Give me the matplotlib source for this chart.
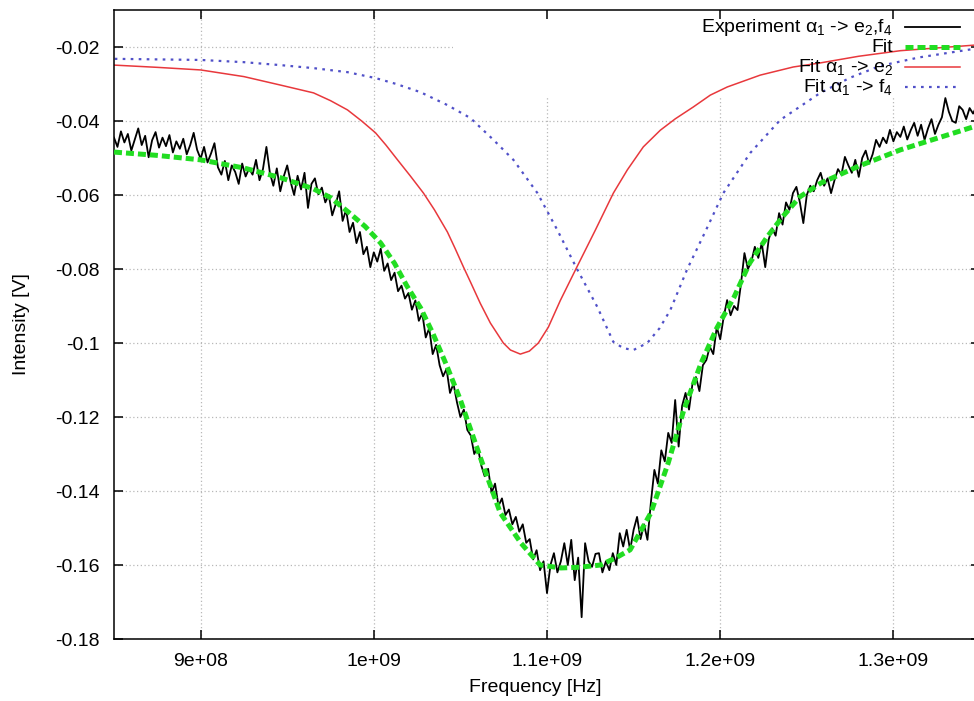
import numpy as np
import matplotlib
matplotlib.use("Agg")
import matplotlib.pyplot as plt
from matplotlib.patches import Rectangle

plt.rcParams['font.family'] = ['Liberation Sans', 'DejaVu Sans']
plt.rcParams['mathtext.fontset'] = 'custom'
plt.rcParams['mathtext.rm'] = 'Liberation Sans'
plt.rcParams['mathtext.it'] = 'Liberation Sans:italic'

# measured sweep (V), evenly sampled from 850 MHz to 1348 MHz, 2 MHz steps
exp_v = [
    -0.0445, -0.0470, -0.0428, -0.0458, -0.0435, -0.0480, -0.0450, -0.0420, -0.0465, -0.0440,
    -0.0498, -0.0452, -0.0430, -0.0472, -0.0445, -0.0468, -0.0438, -0.0485, -0.0455, -0.0475,
    -0.0448, -0.0490, -0.0465, -0.0432, -0.0478, -0.0502, -0.0470, -0.0512, -0.0488, -0.0460,
    -0.0525, -0.0545, -0.0508, -0.0560, -0.0520, -0.0538, -0.0570, -0.0515, -0.0550, -0.0528,
    -0.0545, -0.0505, -0.0560, -0.0530, -0.0470, -0.0540, -0.0575, -0.0528, -0.0590, -0.0550,
    -0.0520, -0.0565, -0.0600, -0.0548, -0.0585, -0.0540, -0.0635, -0.0570, -0.0555, -0.0598,
    -0.0580, -0.0620, -0.0600, -0.0655, -0.0625, -0.0590, -0.0670, -0.0640, -0.0700, -0.0675,
    -0.0730, -0.0700, -0.0760, -0.0740, -0.0795, -0.0755, -0.0780, -0.0745, -0.0805, -0.0785,
    -0.0830, -0.0810, -0.0860, -0.0845, -0.0880, -0.0865, -0.0910, -0.0885, -0.0940, -0.0920,
    -0.0985, -0.0960, -0.1030, -0.1005, -0.1060, -0.1090, -0.1070, -0.1135, -0.1110, -0.1160,
    -0.1200, -0.1180, -0.1235, -0.1250, -0.1300, -0.1280, -0.1330, -0.1360, -0.1340, -0.1405,
    -0.1380, -0.1440, -0.1420, -0.1465, -0.1450, -0.1490, -0.1470, -0.1510, -0.1490, -0.1540,
    -0.1530, -0.1585, -0.1560, -0.1614, -0.1590, -0.1676, -0.1600, -0.1568, -0.1620, -0.1590,
    -0.1541, -0.1600, -0.1532, -0.1641, -0.1580, -0.1741, -0.1541, -0.1590, -0.1605, -0.1570,
    -0.1568, -0.1620, -0.1590, -0.1614, -0.1568, -0.1600, -0.1514, -0.1550, -0.1505, -0.1560,
    -0.1505, -0.1470, -0.1530, -0.1490, -0.1532, -0.1430, -0.1343, -0.1380, -0.1290, -0.1320,
    -0.1243, -0.1270, -0.1154, -0.1280, -0.1170, -0.1135, -0.1180, -0.1110, -0.1092, -0.1130,
    -0.1060, -0.1046, -0.1010, -0.1030, -0.0957, -0.0990, -0.0930, -0.0884, -0.0925, -0.0900,
    -0.0911, -0.0840, -0.0757, -0.0800, -0.0780, -0.0740, -0.0770, -0.0730, -0.0795, -0.0720,
    -0.0690, -0.0710, -0.0649, -0.0680, -0.0620, -0.0640, -0.0595, -0.0578, -0.0620, -0.0676,
    -0.0600, -0.0575, -0.0590, -0.0560, -0.0540, -0.0575, -0.0555, -0.0595, -0.0560, -0.0530,
    -0.0545, -0.0497, -0.0520, -0.0540, -0.0505, -0.0551, -0.0500, -0.0480, -0.0515, -0.0490,
    -0.0451, -0.0470, -0.0445, -0.0460, -0.0424, -0.0455, -0.0430, -0.0443, -0.0415, -0.0450,
    -0.0425, -0.0405, -0.0440, -0.0410, -0.0451, -0.0420, -0.0395, -0.0435, -0.0410, -0.0390,
    -0.0338, -0.0375, -0.0400, -0.0405, -0.0360, -0.0370, -0.0395, -0.0365, -0.0380, -0.0360,
]
exp_f = np.linspace(850e6, 1348e6, len(exp_v))

# total fit (GHz, V)
fit_f = [0.850, 0.875, 0.900, 0.925, 0.946, 0.965, 0.975, 0.985, 0.995, 1.004,
         1.012, 1.019, 1.027, 1.034, 1.042, 1.050, 1.062, 1.073, 1.085, 1.096,
         1.108, 1.119, 1.131, 1.140, 1.148, 1.160, 1.170, 1.179, 1.189, 1.198,
         1.208, 1.217, 1.227, 1.236, 1.246, 1.258, 1.280, 1.304, 1.346]
fit_v = [-0.0484, -0.0493, -0.0505, -0.0527, -0.0553, -0.0583, -0.0607, -0.0645, -0.0685, -0.0730,
         -0.0785, -0.0845, -0.0905, -0.0973, -0.1060, -0.1154, -0.1316, -0.1459, -0.1541, -0.1600,
         -0.1608, -0.1606, -0.1600, -0.1580, -0.1559, -0.1459, -0.1324, -0.1181, -0.1054, -0.0960,
         -0.0876, -0.0784, -0.0714, -0.0659, -0.0605, -0.0568, -0.0522, -0.0478, -0.0416]

# fit component alpha1 -> e2
e2_f = [0.8504, 0.875, 0.900, 0.925, 0.9462, 0.9652, 0.975, 0.9848, 0.993, 1.0010,
        1.007, 1.0137, 1.021, 1.0287, 1.035, 1.0425, 1.047, 1.0518, 1.0558, 1.0615,
        1.0673, 1.0748, 1.0789, 1.0846, 1.0898, 1.0950, 1.1008, 1.1077, 1.1170, 1.1279,
        1.1383, 1.1464, 1.1556, 1.1654, 1.1741, 1.1845, 1.1943, 1.2041, 1.2231, 1.2422,
        1.2578, 1.280, 1.304, 1.3466]
e2_v = [-0.0249, -0.0255, -0.0262, -0.0280, -0.0303, -0.0324, -0.0345, -0.0370, -0.0400, -0.0432,
        -0.0465, -0.0505, -0.0548, -0.0595, -0.0640, -0.0700, -0.0745, -0.0795, -0.0835, -0.0893,
        -0.0946, -0.1000, -0.1019, -0.1030, -0.1022, -0.1000, -0.0957, -0.0885, -0.0797, -0.0695,
        -0.0595, -0.0532, -0.0470, -0.0425, -0.0394, -0.0362, -0.0330, -0.0308, -0.0276, -0.0254,
        -0.0243, -0.0225, -0.0210, -0.0195]

# fit component alpha1 -> f4
f4_f = [0.8504, 0.900, 0.925, 0.9462, 0.965, 0.9848, 1.0010, 1.013, 1.0269, 1.0425,
        1.0558, 1.0691, 1.0806, 1.0945, 1.1060, 1.1170, 1.1291, 1.1383, 1.1441, 1.1499,
        1.1579, 1.1650, 1.1712, 1.1810, 1.1915, 1.2018, 1.2174, 1.2347, 1.2578, 1.275,
        1.2924, 1.315, 1.3466]
f4_v = [-0.0232, -0.0235, -0.0241, -0.0249, -0.0257, -0.0268, -0.0284, -0.0300, -0.0322, -0.0357,
        -0.0392, -0.0451, -0.0505, -0.0595, -0.0695, -0.0797, -0.0903, -0.0997, -0.1014, -0.1019,
        -0.1000, -0.0960, -0.0911, -0.0800, -0.0698, -0.0595, -0.0486, -0.0397, -0.0324, -0.0283,
        -0.0251, -0.0228, -0.0205]

x_ticks = [9e8, 1e9, 1.1e9, 1.2e9, 1.3e9]
x_ticklabels = ['9e+08', '1e+09', '1.1e+09', '1.2e+09', '1.3e+09']
y_ticks = [-0.18, -0.16, -0.14, -0.12, -0.1, -0.08, -0.06, -0.04, -0.02]
y_ticklabels = ['-0.18', '-0.16', '-0.14', '-0.12', '-0.1', '-0.08', '-0.06', '-0.04', '-0.02']

labels = [r'Experiment α$_1$ -> e$_2$,f$_4$', 'Fit',
          r'Fit α$_1$ -> e$_2$', r'Fit α$_1$ -> f$_4$']

W, H = 974, 701
fig = plt.figure(figsize=(W / 100, H / 100), dpi=100)
ax = fig.add_axes([114 / W, (H - 639) / H, 866 / W, 629 / H])

ax.set_xlim(8.5e8, 1.35e9)
ax.set_ylim(-0.18, -0.01)

# gnuplot-like dotted grid, hidden under the key area
for t in x_ticks:
    ax.axvline(t, color='#b8b8b8', lw=0.9, ls=(0, (1, 2)), zorder=0.5)
for t in y_ticks:
    ax.axhline(t, color='#b8b8b8', lw=0.9, ls=(0, (1, 2)), zorder=0.5)
ax.add_patch(Rectangle((0.391, 0.8617), 0.62, 0.2, transform=ax.transAxes,
                       facecolor='white', edgecolor='none', zorder=0.8))

styles = [
    dict(color='black', lw=1.3, ls='-'),
    dict(color='#22dd22', lw=3.6, ls=(0, (1.6, 0.8))),
    dict(color='#e8383c', lw=1.1, ls='-'),
    dict(color='#5050c8', lw=1.6, ls=(0, (1.2, 2.4))),
]

ax.plot(exp_f, exp_v, zorder=2, **styles[0])
ax.plot(np.array(fit_f) * 1e9, fit_v, zorder=3, **styles[1])
ax.plot(np.array(e2_f) * 1e9, e2_v, zorder=2, **styles[2])
ax.plot(np.array(f4_f) * 1e9, f4_v, zorder=2, **styles[3])

# key, gnuplot style: right-aligned text, sample on the right
rows = [27, 47, 67, 87]
for lab, py, st in zip(labels, rows, styles):
    ya = (639 - py) / 629
    ax.text((893 - 114) / 866, ya, lab, transform=ax.transAxes,
            ha='right', va='center', fontsize=14, zorder=4)
    ax.plot([(905 - 114) / 866, (960 - 114) / 866], [ya, ya],
            transform=ax.transAxes, clip_on=False, zorder=4, **st)

ax.set_xticks(x_ticks)
ax.set_xticklabels(x_ticklabels)
ax.set_yticks(y_ticks)
ax.set_yticklabels(y_ticklabels)
ax.tick_params(direction='in', length=6.5, width=1.1, labelsize=14, pad=10,
               top=True, right=True, colors='black')
for s in ax.spines.values():
    s.set_linewidth(1.1)

ax.set_xlabel('Frequency [Hz]', fontsize=14)
ax.xaxis.set_label_coords((535 - 114) / 866, (639 - 679) / 629)
ax.set_ylabel('Intensity [V]', fontsize=14)
ax.yaxis.set_label_coords((30 - 114) / 866, 0.5)

fig.savefig('out.png', dpi=100)
